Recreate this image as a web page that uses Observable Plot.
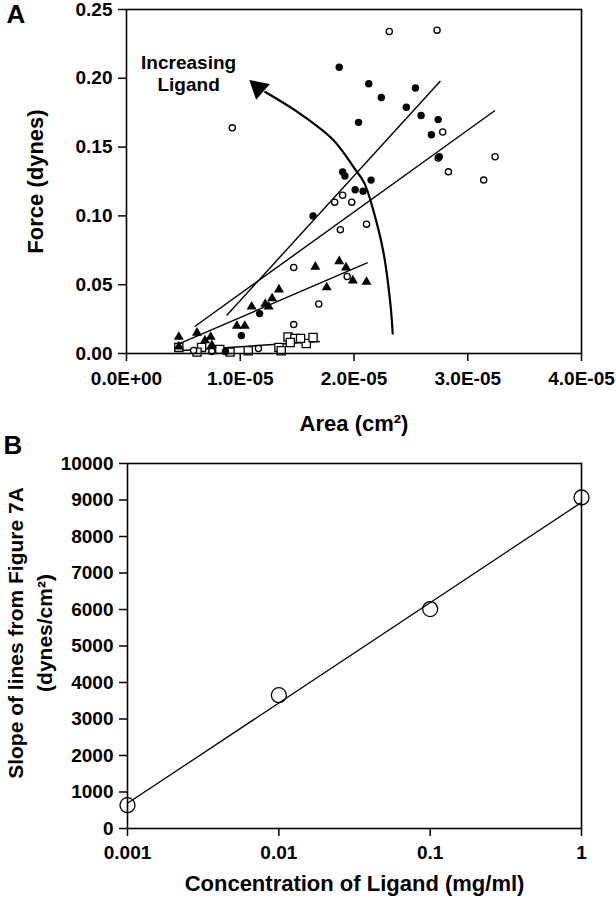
<!DOCTYPE html>
<html><head><meta charset="utf-8">
<script src="https://cdn.jsdelivr.net/npm/d3@7"></script>
<script src="https://cdn.jsdelivr.net/npm/@observablehq/plot@0.6"></script>
<style>
body{margin:0;background:#fff;}
#chart svg{display:block;overflow:visible;}
</style></head><body><div id="chart"></div>
<script>
const FONT = "'Liberation Sans', Arial, Helvetica, sans-serif";

// ---------- Panel A data (area in units of 1e-5 cm², force in dynes) ----------
const xTicksA = [0, 1, 2, 3, 4];
const xTickLabelsA = ["0.0E+00", "1.0E-05", "2.0E-05", "3.0E-05", "4.0E-05"];
const yTicksA = [0, 0.05, 0.10, 0.15, 0.20, 0.25];
const yTickLabelsA = ["0.00", "0.05", "0.10", "0.15", "0.20", "0.25"];

// open squares (lowest ligand)
const sqX = [0.46, 0.66, 0.82, 1.07, 1.34, 1.42, 1.48, 1.44, 1.58, 1.64, 1.53, 1.36, 0.62, 0.91];
const sqY = [0.0044, 0.0044, 0.003, 0.002, 0.0044, 0.012, 0.011, 0.008, 0.0073, 0.0116, 0.011, 0.002, 0.001, 0.001];
// filled triangles
const triX = [1.66, 1.87, 1.93, 1.99, 2.11, 1.76, 1.34, 1.28, 1.25, 1.22, 1.10, 1.04, 0.97, 0.74, 0.69, 0.62, 0.46, 0.46, 0.75];
const triY = [0.063, 0.067, 0.0625, 0.053, 0.052, 0.048, 0.0465, 0.040, 0.034, 0.036, 0.034, 0.020, 0.020, 0.012, 0.0095, 0.015, 0.012, 0.005, 0.006];
// open circles
const ocX = [2.31, 2.73, 0.93, 2.78, 2.74, 3.24, 2.83, 3.14, 1.90, 1.83, 1.98, 2.11, 1.88, 1.47, 1.94, 1.69, 1.47, 1.16, 0.59, 0.75];
const ocY = [0.234, 0.235, 0.164, 0.161, 0.142, 0.143, 0.132, 0.126, 0.115, 0.110, 0.110, 0.094, 0.090, 0.0625, 0.056, 0.036, 0.021, 0.0036, 0.0022, 0.0015];
// filled circles (highest ligand)
const fcX = [1.87, 2.13, 2.24, 2.54, 2.46, 2.59, 2.74, 2.68, 2.04, 2.75, 1.90, 1.92, 2.15, 2.01, 2.08, 1.64, 1.17, 1.01, 0.87];
const fcY = [0.208, 0.196, 0.186, 0.193, 0.179, 0.173, 0.170, 0.159, 0.168, 0.143, 0.132, 0.129, 0.126, 0.119, 0.118, 0.100, 0.029, 0.013, 0.0015];

// fitted lines
const fitSeries = ["filled circles", "open circles", "triangles", "squares"];
const fitX1 = [0.88, 0.60, 0.47, 0.455];
const fitY1 = [0.0276, 0.0196, 0.0073, 0.002];
const fitX2 = [2.76, 3.24, 2.12, 1.70];
const fitY2 = [0.198, 0.1766, 0.066, 0.0087];

// "Increasing Ligand" arrow path
const arrowX = [2.34, 2.32, 2.26, 2.17, 2.09, 2.00, 1.82, 1.53, 1.22];
const arrowY = [0.0145, 0.036, 0.073, 0.104, 0.124, 0.135, 0.155, 0.174, 0.190];
const arrowHead = {x: 1.16, y: 0.193};
const annotation = {x: 0.546, y: 0.2036, text: "Increasing\nLigand"};

// ---------- Panel B data ----------
const conc = [0.001, 0.01, 0.1, 1];
const slope = [638, 3653, 6011, 9068];
const xTicksB = [0.001, 0.01, 0.1, 1];
const xTickLabelsB = ["0.001", "0.01", "0.1", "1"];
const yTicksB = [0, 1000, 2000, 3000, 4000, 5000, 6000, 7000, 8000, 9000, 10000];
const fitBX = [0.001, 1];
const fitBY = [690, 8935];

const zip = (xs, ys) => xs.map((x, i) => ({x, y: ys[i]}));
const squares = zip(sqX, sqY);
const triangles = zip(triX, triY);
const openCircles = zip(ocX, ocY);
const filledCircles = zip(fcX, fcY);
const fits = fitSeries.map((s, i) => ({s, x1: fitX1[i], y1: fitY1[i], x2: fitX2[i], y2: fitY2[i]}));
const arrowPath = zip(arrowX, arrowY);

const baseStyle = {fontFamily: FONT, fontSize: "19px", fontWeight: "bold", color: "#000", overflow: "visible"};

const plotA = Plot.plot({
  width: 616, height: 433,
  marginLeft: 126, marginRight: 35, marginTop: 9, marginBottom: 80,
  style: baseStyle,
  x: {domain: [0, 4]},
  y: {domain: [0, 0.25]},
  marks: [
    Plot.link(fits, {x1: "x1", y1: "y1", x2: "x2", y2: "y2", stroke: "#000", strokeWidth: 1.4}),
    Plot.line(arrowPath, {x: "x", y: "y", curve: "catmull-rom", stroke: "#000", strokeWidth: 2.2}),
    Plot.dot([arrowHead], {x: "x", y: "y", symbol: "triangle", r: 7.8, fill: "#000", rotate: -49}),
    Plot.dot(squares, {x: "x", y: "y", symbol: "square", r: 4.6, fill: "#fff", stroke: "#000", strokeWidth: 1.3}),
    Plot.dot(openCircles, {x: "x", y: "y", r: 3.1, fill: "#fff", stroke: "#000", strokeWidth: 1.3}),
    Plot.dot(triangles, {x: "x", y: "y", symbol: "triangle", r: 3.7, fill: "#000"}),
    Plot.dot(filledCircles, {x: "x", y: "y", r: 3.7, fill: "#000"}),
    Plot.text([annotation], {x: "x", y: "y", text: "text", fontSize: 19, fontWeight: "bold", lineHeight: 1.14, lineAnchor: "middle", textAnchor: "middle"}),
    Plot.frame({stroke: "#000", strokeWidth: 1.6}),
    Plot.axisX({ticks: xTicksA, tickFormat: d => xTickLabelsA[xTicksA.indexOf(d)], tickSize: 8, tickPadding: 10, strokeWidth: 1.5, label: null, fontSize: 19}),
    Plot.axisY({ticks: yTicksA, tickFormat: d => yTickLabelsA[yTicksA.indexOf(d)], tickSize: 8, tickPadding: 6, strokeWidth: 1.5, label: null, fontSize: 19}),
    Plot.text(["Area (cm²)"], {frameAnchor: "bottom", dy: 70, fontSize: 22, fontWeight: "bold", textAnchor: "middle", lineAnchor: "middle"}),
    Plot.text(["Force (dynes)"], {frameAnchor: "left", dx: -91, rotate: -90, fontSize: 22, fontWeight: "bold", textAnchor: "middle", lineAnchor: "middle"}),
    Plot.text(["A"], {frameAnchor: "top-left", dx: -120, dy: 5, fontSize: 26, fontWeight: "bold", textAnchor: "start", lineAnchor: "middle"})
  ]
});

const plotB = Plot.plot({
  width: 616, height: 466,
  marginLeft: 127, marginRight: 35, marginTop: 30, marginBottom: 71,
  style: baseStyle,
  x: {type: "log", domain: [0.001, 1]},
  y: {domain: [0, 10000]},
  marks: [
    Plot.dot(conc.map((c, i) => ({c, s: slope[i]})), {x: "c", y: "s", r: 7.5, fill: "none", stroke: "#000", strokeWidth: 1.3}),
    Plot.line(zip(fitBX, fitBY), {x: "x", y: "y", stroke: "#000", strokeWidth: 1.3}),
    Plot.frame({stroke: "#000", strokeWidth: 1.6}),
    Plot.axisX({ticks: xTicksB, tickFormat: d => xTickLabelsB[xTicksB.indexOf(d)], tickSize: 8, tickPadding: 9, strokeWidth: 1.5, label: null, fontSize: 19}),
    Plot.axisY({ticks: yTicksB, tickFormat: d => String(d), tickSize: 8, tickPadding: 6, strokeWidth: 1.5, label: null, fontSize: 19}),
    Plot.text(["Concentration of Ligand (mg/ml)"], {frameAnchor: "bottom", dy: 55, fontSize: 22, fontWeight: "bold", textAnchor: "middle", lineAnchor: "middle"}),
    Plot.text(["Slope of lines from Figure 7A\n(dynes/cm²)"], {frameAnchor: "left", dx: -99, dy: -13, rotate: -90, fontSize: 21, lineHeight: 1.38, fontWeight: "bold", textAnchor: "middle", lineAnchor: "middle"}),
    Plot.text(["B"], {frameAnchor: "top-left", dx: -124, dy: -18, fontSize: 26, fontWeight: "bold", textAnchor: "start", lineAnchor: "middle"})
  ]
});

document.getElementById("chart").append(plotA, plotB);
</script>
</body></html>
